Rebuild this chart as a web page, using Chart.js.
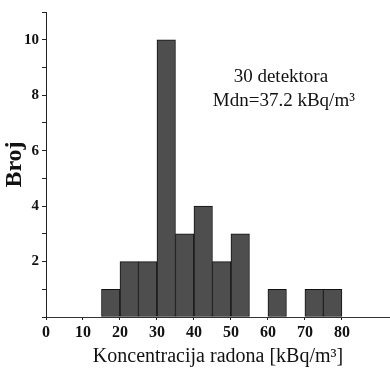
<!DOCTYPE html>
<html>
<head>
<meta charset="utf-8">
<script src="https://cdn.jsdelivr.net/npm/chart.js@4/dist/chart.umd.min.js"></script>
<style>
  html, body { margin: 0; padding: 0; background: #fff; }
  #wrap { width: 390px; height: 369px; }
</style>
</head>
<body>
<div id="wrap"><canvas id="myChart"></canvas></div>
<script>
// bin centres (kBq/m3) and counts, bin width 5
var binCenters = [17.5, 22.5, 27.5, 32.5, 37.5, 42.5, 47.5, 52.5, 57.5, 62.5, 67.5, 72.5, 77.5];
var counts = [1, 2, 2, 10, 3, 4, 2, 3, 0, 1, 0, 1, 1];
var xTicks = [0, 10, 20, 30, 40, 50, 60, 70, 80];
var yTicks = [2, 4, 6, 8, 10];
var noteLines = ["30 detektora", "Mdn=37.2 kBq/m\u00B3"];

var serif = "'Liberation Serif', 'DejaVu Serif', serif";

var points = binCenters.map(function (c, i) { return { x: c, y: counts[i] }; });

// text note in the upper right, placed via the scales
var notePlugin = {
    id: 'note',
    afterDraw: function (chart) {
        var ctx = chart.ctx;
        var xs = chart.scales.x, ys = chart.scales.y;
        ctx.save();
        ctx.fillStyle = '#111';
        ctx.font = "19px " + serif;
        ctx.textAlign = 'center';
        ctx.textBaseline = 'middle';
        ctx.fillText(noteLines[0], xs.getPixelForValue(63.5), ys.getPixelForValue(8.65));
        ctx.fillText(noteLines[1], xs.getPixelForValue(64.3), ys.getPixelForValue(7.78));
        ctx.restore();
    }
};

new Chart("myChart", {
    type: "bar",
    data: {
        datasets: [{
            data: points,
            backgroundColor: '#4e4e4e',
            borderColor: '#111',
            borderWidth: 1,
            barPercentage: 1,
            categoryPercentage: 1,
            borderSkipped: false
        }]
    },
    options: {
        responsive: true,
        maintainAspectRatio: false,
        animation: false,
        layout: { padding: { top: 12, right: 0, left: 0, bottom: 0 } },
        plugins: {
            legend: { display: false },
            tooltip: { enabled: false }
        },
        scales: {
            x: {
                type: 'linear',
                min: 0,
                max: 93,
                offset: false,
                afterBuildTicks: function (s) {
                    s.ticks = xTicks.map(function (v) { return { value: v }; });
                },
                afterFit: function (s) { s.height = 52; },
                grid: { display: true, drawOnChartArea: false, offset: false, tickLength: 3, color: '#222' },
                border: { display: true, color: '#333', width: 1, dash: [2, 2] },
                ticks: {
                    color: '#111',
                    font: { family: serif, size: 16, weight: 'bold' },
                    padding: 3,
                    maxRotation: 0
                },
                title: {
                    display: true,
                    text: 'Koncentracija radona [kBq/m\u00B3]',
                    color: '#111',
                    font: { family: serif, size: 20 },
                    padding: { top: 0, bottom: 0 }
                }
            },
            y: {
                min: 0,
                max: 11,
                afterFit: function (s) { s.width = 46; },
                ticks: {
                    stepSize: 1,
                    color: '#111',
                    font: { family: serif, size: 15, weight: 'bold' },
                    padding: 3,
                    callback: function (v) { return yTicks.indexOf(v) >= 0 ? v : ''; }
                },
                grid: { display: true, drawOnChartArea: false, tickLength: 4, color: '#222' },
                border: { display: true, color: '#222', width: 1 },
                title: {
                    display: true,
                    text: 'Broj',
                    color: '#111',
                    font: { family: serif, size: 24, weight: 'bold' },
                    padding: { top: 0, bottom: 0 }
                }
            }
        }
    },
    plugins: [notePlugin]
});
</script>
</body>
</html>
